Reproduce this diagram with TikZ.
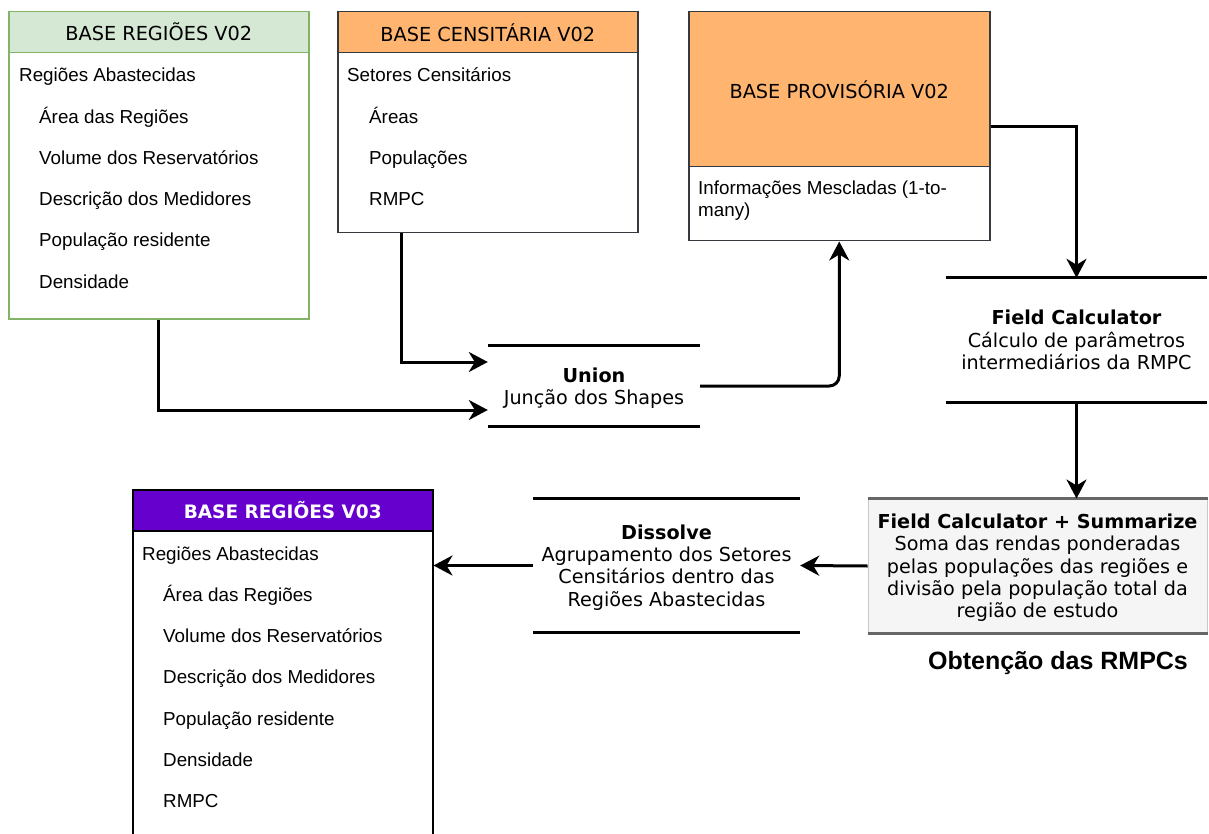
\documentclass[tikz,border=0pt]{standalone}
\usepackage{fontspec}
\setmainfont{Liberation Sans}
\newfontfamily\verdfont{DejaVu Sans}
\usetikzlibrary{arrows.meta,positioning}

\definecolor{headgreen}{HTML}{D5E8D4}
\definecolor{linegreen}{HTML}{82B366}
\definecolor{headorange}{HTML}{FFB570}
\definecolor{linedark}{HTML}{36393D}
\definecolor{headpurple}{HTML}{6600CC}
\definecolor{sumgray}{HTML}{F5F5F5}
\definecolor{sumline}{HTML}{666666}

\tikzset{
    tablebox/.style = {draw, line width=1.5pt, anchor=north west,
        minimum width=300pt, inner sep=0pt},
    headbox/.style = {draw, line width=1.5pt, anchor=north,
        minimum width=300pt, inner sep=0pt,
        font=\verdfont\fontsize{19.3}{22}\selectfont},
    item/.style = {anchor=west, inner sep=0pt, align=left,
        text height=14pt, text depth=4pt,
        font=\fontsize{18.8}{22}\selectfont},
    procnode/.style = {align=center, inner sep=0pt, text depth=0pt,
        font=\verdfont\fontsize{19.2}{22.3}\selectfont,
        append after command = {%
            (\tikzlastnode.north west) edge[procline] (\tikzlastnode.north east)
            (\tikzlastnode.south west) edge[procline] (\tikzlastnode.south east)
        }},
    sumnode/.style = {align=center, inner sep=0pt, text depth=0pt,
        fill=sumgray, draw=sumline!35, line width=1pt,
        font=\verdfont\fontsize{19.2}{22.3}\selectfont,
        append after command = {%
            (\tikzlastnode.north west) edge[sumrule] (\tikzlastnode.north east)
            (\tikzlastnode.south west) edge[sumrule] (\tikzlastnode.south east)
        }},
    procline/.style = {draw=black, line width=3pt},
    sumrule/.style = {draw=sumline, line width=3pt},
    flow/.style = {draw=black, line width=3pt,
        -{Stealth[length=19pt, width=20pt, inset=6pt]}},
}

\begin{document}
\begin{tikzpicture}[x=1pt, y=-1pt]

        \useasboundingbox (0, 0) rectangle (1209, 834);

        % Base regioes V02 (green table)
        \node[tablebox, draw=linegreen, minimum height=307pt] (rg2) at (8, 11) {};
        \node[headbox, fill=headgreen, draw=linegreen, minimum height=41pt]
            (rg2head) at (rg2.north) {BASE REGIÕES V02};
        \node[item] (rg2top) at (19, 77) {Regiões Abastecidas};
        \foreach \txt [count=\i] in {Área das Regiões, Volume dos Reservatórios,
            Descrição dos Medidores, População residente, Densidade}
            \node[item] (rg2-\i) at (39, {77 + 41.25*\i}) {\txt};

        % Base censitaria V02 (orange table)
        \node[tablebox, draw=linedark, minimum height=221pt] (cs2) at (337, 11) {};
        \node[headbox, fill=headorange, draw=linedark, minimum height=41pt]
            (cs2head) at (cs2.north) {BASE CENSITÁRIA V02};
        \node[item] (cs2top) at (347, 77) {Setores Censitários};
        \foreach \txt [count=\i] in {Áreas, Populações, RMPC}
            \node[item] (cs2-\i) at (369, {77 + 41.25*\i}) {\txt};

        % Base provisoria V02
        \node[tablebox, draw=linedark, minimum width=301pt, minimum height=229pt]
            (pv2) at (688, 11) {};
        \node[headbox, fill=headorange, draw=linedark, minimum width=301pt,
            minimum height=155pt] (pv2head) at (pv2.north) {BASE PROVISÓRIA V02};
        \node[item, text height=, text depth=] (pv2info) at (698, 201)
            {Informações Mescladas (1-to-\\many)};

        % Processing steps
        \node[procnode, minimum width=212pt, minimum height=80pt] (union)
            at (594, 386) {\textbf{Union}\\Junção dos Shapes};
        \node[procnode, minimum width=261pt, minimum height=124pt] (fc)
            at (1076.5, 340) {\textbf{Field Calculator}\\Cálculo de parâmetros\\intermediários da RMPC};
        \node[procnode, minimum width=267pt, minimum height=133pt] (dis)
            at (666.5, 565.5) {\textbf{Dissolve}\\Agrupamento dos Setores\\Censitários dentro das\\Regiões Abastecidas};

        % Summarize step: grey box with thick top and bottom rules
        \node[sumnode, minimum width=339pt, minimum height=134pt] (sum)
            at (1037.5, 566) {\textbf{Field Calculator + Summarize}\\Soma das rendas ponderadas\\pelas populações das regiões e\\divisão pela população total da\\região de estudo};

        \node[font=\bfseries\fontsize{25}{30}\selectfont, inner sep=0pt] (title)
            at (1058, 663) {Obtenção das RMPCs};

        % Base regioes V03 (purple table, runs off the page)
        \node[tablebox, draw=black, minimum height=360pt] (rg3) at (132, 489) {};
        \node[headbox, fill=headpurple, draw=black, text=white, minimum height=41pt,
            font=\verdfont\bfseries\fontsize{18.5}{22}\selectfont]
            (rg3head) at (rg3.north) {BASE REGIÕES V03};
        \node[item] (rg3top) at (142, 555) {Regiões Abastecidas};
        \foreach \txt [count=\i] in {Área das Regiões, Volume dos Reservatórios,
            Descrição dos Medidores, População residente, Densidade, RMPC}
            \node[item] (rg3-\i) at (163, {555 + 41.3*\i}) {\txt};

        % Connectors
        \draw[flow] ([xshift=64pt]cs2.south west) |- ([yshift=24pt]union.west);
        \draw[flow] (rg2.south) |- ([yshift=-24pt]union.west);
        \draw[flow, rounded corners=10pt] (union.east) -| (pv2.south);
        \draw[flow] (pv2.east) -| (fc.north);
        \draw[flow] (fc.south) -- (fc.south |- sum.north);
        \draw[flow] (sum.west) -- (dis.east);
        \draw[flow] (dis.west) -- (dis.west -| rg3.east);
    \end{tikzpicture}
\end{document}
